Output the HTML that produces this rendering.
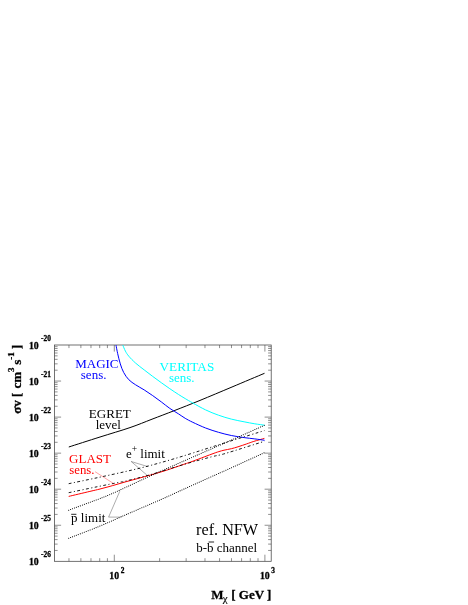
<!DOCTYPE html>
<html><head><meta charset="utf-8"><title>plot</title>
<style>html,body{margin:0;padding:0;background:#fff}svg{display:block;will-change:transform}</style></head>
<body>
<svg width="468" height="605" viewBox="0 0 468 605">
<rect width="468" height="605" fill="#fff"/>
<path d="M54.50 550.45h3.1M271.20 550.45h-3.1M54.50 544.10h3.1M271.20 544.10h-3.1M54.50 539.60h3.1M271.20 539.60h-3.1M54.50 536.10h3.1M271.20 536.10h-3.1M54.50 533.25h3.1M271.20 533.25h-3.1M54.50 530.83h3.1M271.20 530.83h-3.1M54.50 528.74h3.1M271.20 528.74h-3.1M54.50 526.90h3.1M271.20 526.90h-3.1M54.50 525.25h6.6M271.20 525.25h-6.6M54.50 514.40h3.1M271.20 514.40h-3.1M54.50 508.05h3.1M271.20 508.05h-3.1M54.50 503.55h3.1M271.20 503.55h-3.1M54.50 500.05h3.1M271.20 500.05h-3.1M54.50 497.20h3.1M271.20 497.20h-3.1M54.50 494.78h3.1M271.20 494.78h-3.1M54.50 492.69h3.1M271.20 492.69h-3.1M54.50 490.85h3.1M271.20 490.85h-3.1M54.50 489.20h6.6M271.20 489.20h-6.6M54.50 478.35h3.1M271.20 478.35h-3.1M54.50 472.00h3.1M271.20 472.00h-3.1M54.50 467.50h3.1M271.20 467.50h-3.1M54.50 464.00h3.1M271.20 464.00h-3.1M54.50 461.15h3.1M271.20 461.15h-3.1M54.50 458.73h3.1M271.20 458.73h-3.1M54.50 456.64h3.1M271.20 456.64h-3.1M54.50 454.80h3.1M271.20 454.80h-3.1M54.50 453.15h6.6M271.20 453.15h-6.6M54.50 442.30h3.1M271.20 442.30h-3.1M54.50 435.95h3.1M271.20 435.95h-3.1M54.50 431.45h3.1M271.20 431.45h-3.1M54.50 427.95h3.1M271.20 427.95h-3.1M54.50 425.10h3.1M271.20 425.10h-3.1M54.50 422.68h3.1M271.20 422.68h-3.1M54.50 420.59h3.1M271.20 420.59h-3.1M54.50 418.75h3.1M271.20 418.75h-3.1M54.50 417.10h6.6M271.20 417.10h-6.6M54.50 406.25h3.1M271.20 406.25h-3.1M54.50 399.90h3.1M271.20 399.90h-3.1M54.50 395.40h3.1M271.20 395.40h-3.1M54.50 391.90h3.1M271.20 391.90h-3.1M54.50 389.05h3.1M271.20 389.05h-3.1M54.50 386.63h3.1M271.20 386.63h-3.1M54.50 384.54h3.1M271.20 384.54h-3.1M54.50 382.70h3.1M271.20 382.70h-3.1M54.50 381.05h6.6M271.20 381.05h-6.6M54.50 370.20h3.1M271.20 370.20h-3.1M54.50 363.85h3.1M271.20 363.85h-3.1M54.50 359.35h3.1M271.20 359.35h-3.1M54.50 355.85h3.1M271.20 355.85h-3.1M54.50 353.00h3.1M271.20 353.00h-3.1M54.50 350.58h3.1M271.20 350.58h-3.1M54.50 348.49h3.1M271.20 348.49h-3.1M54.50 346.65h3.1M271.20 346.65h-3.1M68.96 561.30v-3.1M68.96 345.00v3.1M80.89 561.30v-3.1M80.89 345.00v3.1M90.97 561.30v-3.1M90.97 345.00v3.1M99.71 561.30v-3.1M99.71 345.00v3.1M107.41 561.30v-3.1M107.41 345.00v3.1M159.64 561.30v-3.1M159.64 345.00v3.1M186.15 561.30v-3.1M186.15 345.00v3.1M204.97 561.30v-3.1M204.97 345.00v3.1M219.56 561.30v-3.1M219.56 345.00v3.1M231.49 561.30v-3.1M231.49 345.00v3.1M241.57 561.30v-3.1M241.57 345.00v3.1M250.31 561.30v-3.1M250.31 345.00v3.1M258.01 561.30v-3.1M258.01 345.00v3.1M114.30 561.30v-6.6M114.30 345.00v6.6M264.90 561.30v-6.6M264.90 345.00v6.6" stroke="#333" stroke-width="0.55" fill="none"/>
<rect x="54.50" y="345.00" width="216.70" height="216.30" fill="none" stroke="#444" stroke-width="0.75"/>
<path d="M68.70 496.40 C72.23 495.57 84.68 492.63 89.90 491.40 C95.12 490.17 96.27 489.95 100.00 489.00 C103.73 488.05 108.13 486.87 112.30 485.70 C116.47 484.53 120.75 483.20 125.00 482.00 C129.25 480.80 133.53 479.67 137.80 478.50 C142.07 477.33 146.32 476.22 150.60 475.00 C154.88 473.78 159.22 472.55 163.50 471.20 C167.78 469.85 172.72 468.12 176.30 466.90 C179.88 465.68 182.60 464.72 185.00 463.90 C187.40 463.08 187.97 462.98 190.70 462.00 C193.43 461.02 197.85 459.33 201.40 458.00 C204.95 456.67 209.08 455.07 212.00 454.00 C214.92 452.93 216.90 452.23 218.90 451.60 C220.90 450.97 221.92 450.68 224.00 450.20 C226.08 449.72 229.07 449.27 231.40 448.70 C233.73 448.13 235.45 447.60 238.00 446.80 C240.55 446.00 244.07 444.80 246.70 443.90 C249.33 443.00 250.85 442.32 253.80 441.40 C256.75 440.48 262.63 438.90 264.40 438.40" stroke="#f00" stroke-width="1.0" fill="none"/>
<path d="M68.80 447.00 C74.00 445.33 89.80 440.23 100.00 437.00 C110.20 433.77 121.33 430.57 130.00 427.60 C138.67 424.63 144.65 422.02 152.00 419.20 C159.35 416.38 166.10 413.83 174.10 410.70 C182.10 407.57 190.35 404.35 200.00 400.40 C209.65 396.45 221.25 391.52 232.00 387.00 C242.75 382.48 259.08 375.58 264.50 373.30" stroke="#000" stroke-width="1.0" fill="none"/>
<path d="M116.00 345.10 C116.28 346.53 116.98 350.57 117.70 353.70 C118.42 356.83 119.30 360.77 120.30 363.90 C121.30 367.03 122.28 369.87 123.70 372.50 C125.12 375.13 126.82 377.65 128.80 379.70 C130.78 381.75 133.03 383.10 135.60 384.80 C138.17 386.50 141.35 388.10 144.20 389.90 C147.05 391.70 149.85 393.60 152.70 395.60 C155.55 397.60 158.45 399.77 161.30 401.90 C164.15 404.03 166.95 406.42 169.80 408.40 C172.65 410.38 175.83 412.15 178.40 413.80 C180.97 415.45 182.80 416.88 185.20 418.30 C187.60 419.72 189.40 420.68 192.80 422.30 C196.20 423.92 201.32 426.33 205.60 428.00 C209.88 429.67 214.22 431.05 218.50 432.30 C222.78 433.55 227.03 434.62 231.30 435.50 C235.57 436.38 240.18 437.03 244.10 437.60 C248.02 438.17 251.38 438.45 254.80 438.90 C258.22 439.35 262.97 440.07 264.60 440.30" stroke="#00f" stroke-width="1.0" fill="none" id="magic"/>
<path d="M122.80 345.10 C123.23 346.10 124.40 349.25 125.40 351.10 C126.40 352.95 127.10 354.20 128.80 356.20 C130.50 358.20 133.03 360.82 135.60 363.10 C138.17 365.38 141.35 367.68 144.20 369.90 C147.05 372.12 149.85 374.27 152.70 376.40 C155.55 378.53 158.45 380.65 161.30 382.70 C164.15 384.75 166.95 386.75 169.80 388.70 C172.65 390.65 175.83 392.75 178.40 394.40 C180.97 396.05 182.80 397.17 185.20 398.60 C187.60 400.03 189.40 401.12 192.80 403.00 C196.20 404.88 201.32 407.87 205.60 409.90 C209.88 411.93 214.22 413.67 218.50 415.20 C222.78 416.73 227.03 418.00 231.30 419.10 C235.57 420.20 240.18 421.02 244.10 421.80 C248.02 422.58 251.38 423.23 254.80 423.80 C258.22 424.37 262.97 424.97 264.60 425.20" stroke="#0ff" stroke-width="1.0" fill="none" id="veritas"/>
<path d="M68.70 483.70 C73.48 482.70 87.68 479.78 97.40 477.70 C107.12 475.62 118.13 473.25 127.00 471.20 C135.87 469.15 141.43 467.87 150.60 465.40 C159.77 462.93 168.77 460.43 182.00 456.40 C195.23 452.37 216.27 445.50 230.00 441.20 C243.73 436.90 258.67 432.37 264.40 430.60" stroke="#000" stroke-width="0.9" fill="none" stroke-dasharray="2.9 2.4 1.1 2.4"/>
<path d="M68.70 492.70 C73.48 491.70 88.88 488.45 97.40 486.70 C105.92 484.95 115.20 483.12 119.80 482.20 C124.40 481.28 119.87 482.47 125.00 481.20 C130.13 479.93 140.60 477.45 150.60 474.60 C160.60 471.75 174.77 467.08 185.00 464.10 C195.23 461.12 205.35 458.45 212.00 456.70 C218.65 454.95 216.17 456.17 224.90 453.60 C233.63 451.03 257.82 443.35 264.40 441.30" stroke="#000" stroke-width="0.9" fill="none" stroke-dasharray="2.9 2.4 1.1 2.4"/>
<path d="M68.70 510.20 C73.48 508.42 90.63 502.07 97.40 499.50 C104.17 496.93 104.37 496.92 109.30 494.80 C114.23 492.68 120.12 489.97 127.00 486.80 C133.88 483.63 141.43 479.97 150.60 475.80 C159.77 471.63 168.77 467.65 182.00 461.80 C195.23 455.95 216.27 446.78 230.00 440.70 C243.73 434.62 258.67 427.87 264.40 425.30" stroke="#000" stroke-width="1.08" fill="none" stroke-dasharray="0.01 2.08" stroke-linecap="round"/>
<path d="M68.70 538.30 C73.48 536.43 88.88 530.58 97.40 527.10 C105.92 523.62 114.37 519.77 119.80 517.40 C125.23 515.03 123.05 515.92 130.00 512.90 C136.95 509.88 152.33 503.35 161.50 499.30 C170.67 495.25 175.87 492.73 185.00 488.60 C194.13 484.47 208.80 477.87 216.30 474.50 C223.80 471.13 221.98 472.03 230.00 468.40 C238.02 464.77 258.67 455.32 264.40 452.70" stroke="#000" stroke-width="1.08" fill="none" stroke-dasharray="0.01 2.08" stroke-linecap="round"/>
<path d="M95.1 471.7L113.8 483.7" stroke="#f00" stroke-width="0.36" fill="none"/>
<path d="M119.8 491.2L108.6 517.1L121.3 517.1" stroke="#000" stroke-width="0.33" fill="none"/>
<path d="M148.1 466.7L131.2 461.5L146.8 475" stroke="#000" stroke-width="0.33" fill="none"/>
<text x="75.2" y="367.8" font-size="13" fill="#00f" font-family="Liberation Serif, serif" >MAGIC</text>
<text x="80.8" y="378.7" font-size="13" fill="#00f" font-family="Liberation Serif, serif" >sens.</text>
<text x="159.6" y="371.0" font-size="13.2" fill="#0ff" font-family="Liberation Serif, serif" >VERITAS</text>
<text x="168.9" y="381.7" font-size="13" fill="#0ff" font-family="Liberation Serif, serif" >sens.</text>
<text x="88.8" y="418.3" font-size="13.05" fill="#000" font-family="Liberation Serif, serif" >EGRET</text>
<text x="95.7" y="429.3" font-size="13" fill="#000" font-family="Liberation Serif, serif" >level</text>
<text x="69.1" y="463.4" font-size="13" fill="#f00" font-family="Liberation Serif, serif" >GLAST</text>
<text x="69.3" y="473.8" font-size="12.8" fill="#f00" font-family="Liberation Serif, serif" >sens.</text>
<text x="125.9" y="457.8" font-size="13" fill="#000" font-family="Liberation Serif, serif" >e<tspan dy="-6.3" font-size="9.5">+</tspan><tspan dy="6.3"> limit</tspan></text>
<text x="71.1" y="521.8" font-size="13" fill="#000" font-family="Liberation Serif, serif" >p limit</text>
<path d="M71.2 514.3H76.4" stroke="#000" stroke-width="0.85"/>
<text x="196.1" y="534.6" font-size="16.2" fill="#000" font-family="Liberation Serif, serif" >ref. NFW</text>
<text x="196.2" y="551.8" font-size="13" fill="#000" font-family="Liberation Serif, serif" >b-b channel</text>
<path d="M208.6 542.0H214.1" stroke="#000" stroke-width="0.85"/>
<text x="28.9" y="348.5" font-size="9.8" fill="#000" font-family="Liberation Serif, serif" font-weight="bold" stroke="#000" stroke-width="0.3">10</text>
<text x="41.0" y="340.5" font-size="7.4" fill="#000" font-family="Liberation Serif, serif" font-weight="bold" stroke="#000" stroke-width="0.3">-20</text>
<text x="28.9" y="384.6" font-size="9.8" fill="#000" font-family="Liberation Serif, serif" font-weight="bold" stroke="#000" stroke-width="0.3">10</text>
<text x="41.0" y="376.6" font-size="7.4" fill="#000" font-family="Liberation Serif, serif" font-weight="bold" stroke="#000" stroke-width="0.3">-21</text>
<text x="28.9" y="420.6" font-size="9.8" fill="#000" font-family="Liberation Serif, serif" font-weight="bold" stroke="#000" stroke-width="0.3">10</text>
<text x="41.0" y="412.6" font-size="7.4" fill="#000" font-family="Liberation Serif, serif" font-weight="bold" stroke="#000" stroke-width="0.3">-22</text>
<text x="28.9" y="456.6" font-size="9.8" fill="#000" font-family="Liberation Serif, serif" font-weight="bold" stroke="#000" stroke-width="0.3">10</text>
<text x="41.0" y="448.6" font-size="7.4" fill="#000" font-family="Liberation Serif, serif" font-weight="bold" stroke="#000" stroke-width="0.3">-23</text>
<text x="28.9" y="492.7" font-size="9.8" fill="#000" font-family="Liberation Serif, serif" font-weight="bold" stroke="#000" stroke-width="0.3">10</text>
<text x="41.0" y="484.7" font-size="7.4" fill="#000" font-family="Liberation Serif, serif" font-weight="bold" stroke="#000" stroke-width="0.3">-24</text>
<text x="28.9" y="528.8" font-size="9.8" fill="#000" font-family="Liberation Serif, serif" font-weight="bold" stroke="#000" stroke-width="0.3">10</text>
<text x="41.0" y="520.8" font-size="7.4" fill="#000" font-family="Liberation Serif, serif" font-weight="bold" stroke="#000" stroke-width="0.3">-25</text>
<text x="28.9" y="564.8" font-size="9.8" fill="#000" font-family="Liberation Serif, serif" font-weight="bold" stroke="#000" stroke-width="0.3">10</text>
<text x="41.0" y="556.8" font-size="7.4" fill="#000" font-family="Liberation Serif, serif" font-weight="bold" stroke="#000" stroke-width="0.3">-26</text>
<text x="109.3" y="578.6" font-size="9.8" fill="#000" font-family="Liberation Serif, serif" font-weight="bold" stroke="#000" stroke-width="0.3">10</text>
<text x="120.7" y="573.3" font-size="7.4" fill="#000" font-family="Liberation Serif, serif" font-weight="bold" stroke="#000" stroke-width="0.3">2</text>
<text x="259.9" y="578.6" font-size="9.8" fill="#000" font-family="Liberation Serif, serif" font-weight="bold" stroke="#000" stroke-width="0.3">10</text>
<text x="271.3" y="573.3" font-size="7.4" fill="#000" font-family="Liberation Serif, serif" font-weight="bold" stroke="#000" stroke-width="0.3">3</text>
<text x="211.3" y="598.5" font-size="13" fill="#000" font-family="Liberation Serif, serif" font-weight="bold" stroke="#000" stroke-width="0.3">M<tspan dy="3.6" dx="-0.9" font-size="11" font-weight="normal" stroke-width="0.15">χ</tspan><tspan dy="-3.6" dx="0.4"> [ GeV ]</tspan></text>
<g transform="translate(20.8 413.7) rotate(-90)">
<text x="0.0" y="0.0" font-size="13" fill="#000" font-family="Liberation Serif, serif" font-weight="bold" stroke="#000" stroke-width="0.3">σv [ <tspan dx="0.7">cm</tspan><tspan dy="-6.4" font-size="9">3</tspan><tspan dy="6.4" dx="-0.6"> s</tspan><tspan dy="-6.4" font-size="9">-1</tspan><tspan dy="6.4"> ]</tspan></text>
</g>
</svg>
</body></html>
